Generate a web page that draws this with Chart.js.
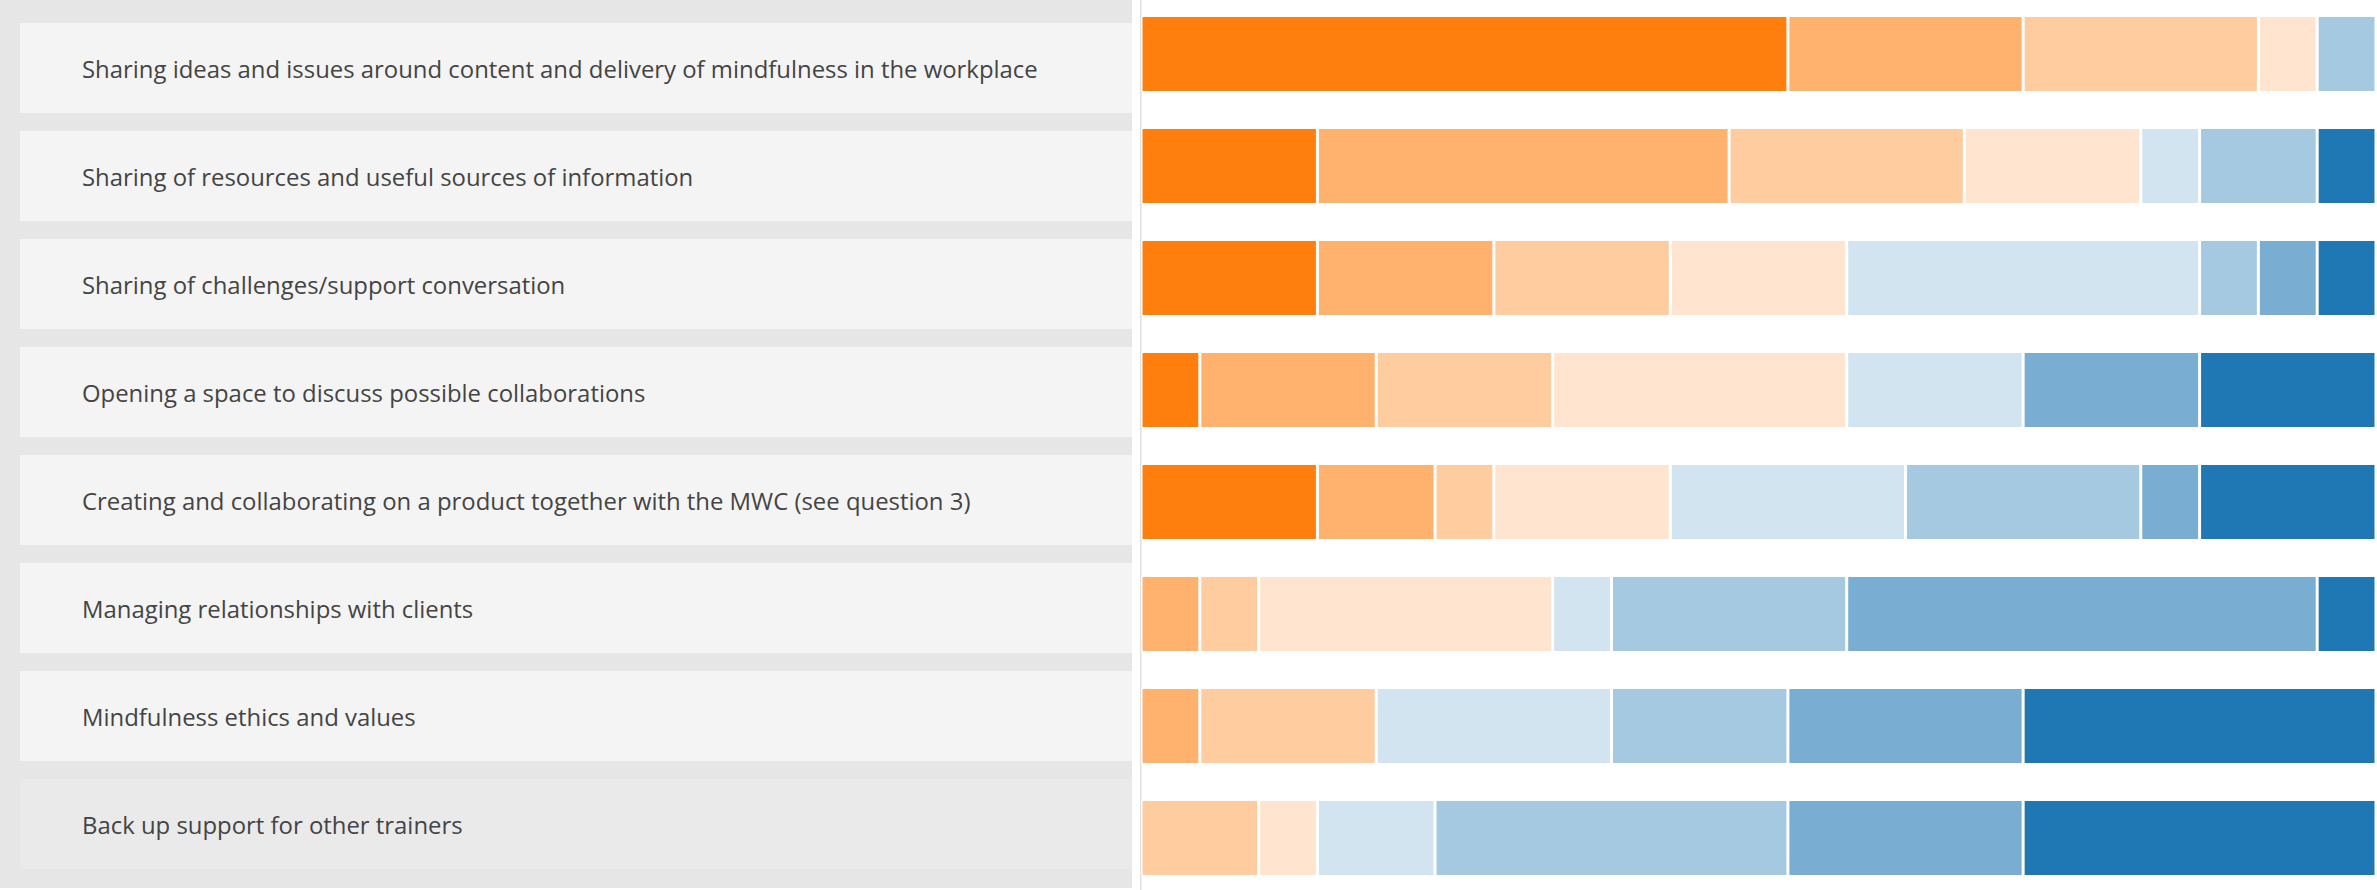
<!DOCTYPE html>
<html>
<head>
<meta charset="utf-8">
<script src="https://cdn.jsdelivr.net/npm/chart.js@4.4.1/dist/chart.umd.min.js"></script>
<style>
    html, body { margin: 0; padding: 0; background: #fff; overflow: hidden; }
    body { width: 2377px; height: 890px; position: relative; }
    #labels {
        position: absolute; left: 0; top: 0; width: 1132px; height: 888px;
        background: #e6e6e6;
    }
    .lbl {
        position: absolute; left: 20px; width: 1112px; height: 90px;
        background: #f4f4f4; display: flex; align-items: center;
        box-sizing: border-box; padding-left: 62px;
        font-family: "Open Sans", sans-serif; font-size: 23.9px; color: #444;
        white-space: nowrap;
    }
    .lbl.hover { background: #eaeaea; }
    #wrap { position: absolute; left: 1140px; top: -2px; width: 1236px; height: 896px; }
</style>
</head>
<body>
<div id="labels"></div>
<div id="wrap"><canvas id="likertChart"></canvas></div>
<script>
// categorias (de cima para baixo)
const categories = [
    'Sharing ideas and issues around content and delivery of mindfulness in the workplace',
    'Sharing of resources and useful sources of information',
    'Sharing of challenges/support conversation',
    'Opening a space to discuss possible collaborations',
    'Creating and collaborating on a product together with the MWC (see question 3)',
    'Managing relationships with clients',
    'Mindfulness ethics and values',
    'Back up support for other trainers'
];

// respostas por nível (1 = laranja forte ... 8 = azul forte)
const level1 = [11, 3, 3, 1, 3, 0, 0, 0];
const level2 = [4, 7, 3, 3, 2, 1, 1, 0];
const level3 = [4, 4, 3, 3, 1, 1, 3, 2];
const level4 = [1, 3, 3, 5, 3, 5, 0, 1];
const level5 = [0, 1, 6, 3, 4, 1, 4, 2];
const level6 = [1, 2, 1, 0, 4, 4, 3, 6];
const level7 = [0, 0, 1, 3, 1, 8, 4, 4];
const level8 = [0, 1, 1, 3, 3, 1, 6, 6];
const levelNames = ['1', '2', '3', '4', '5', '6', '7', '8'];
const totalAnswers = 21;

const colors = [
    '#ff7f0e', '#ffb26e', '#ffcc9f', '#ffe5cf',
    '#d2e4f0', '#a5c9e1', '#79add2', '#1f77b4'
];

// painel de rótulos à esquerda
const labelsPanel = document.getElementById('labels');
categories.forEach(function (text, i) {
    const div = document.createElement('div');
    div.className = 'lbl' + (i === categories.length - 1 ? ' hover' : '');
    div.style.top = (23 + i * 108) + 'px';
    div.textContent = text;
    labelsPanel.appendChild(div);
});

document.addEventListener("DOMContentLoaded", function () {
    const levels = [level1, level2, level3, level4, level5, level6, level7, level8];

    const data = {
        labels: categories,
        datasets: levels.map(function (values, i) {
            return {
                label: levelNames[i],
                data: values,
                backgroundColor: colors[i],
                borderColor: '#ffffff',
                borderWidth: { left: 1.5, right: 1.5, top: 0, bottom: 0 },
                borderSkipped: false,
                barPercentage: 0.66,
                categoryPercentage: 1.0
            };
        })
    };

    new Chart(document.getElementById('likertChart'), {
        type: 'bar',
        data: data,
        options: {
            indexAxis: 'y',
            responsive: true,
            maintainAspectRatio: false,
            animation: false,
            layout: { padding: { left: 1 } },
            scales: {
                x: {
                    stacked: true,
                    min: 0,
                    max: totalAnswers,
                    display: false
                },
                y: {
                    stacked: true,
                    ticks: { display: false },
                    grid: { display: false },
                    border: { display: true, color: '#e0e0e0', width: 1.5 },
                    afterFit: function (scale) { scale.width = 0; }
                }
            },
            plugins: {
                legend: { display: false },
                tooltip: { enabled: true }
            }
        }
    });
});
</script>
</body>
</html>
